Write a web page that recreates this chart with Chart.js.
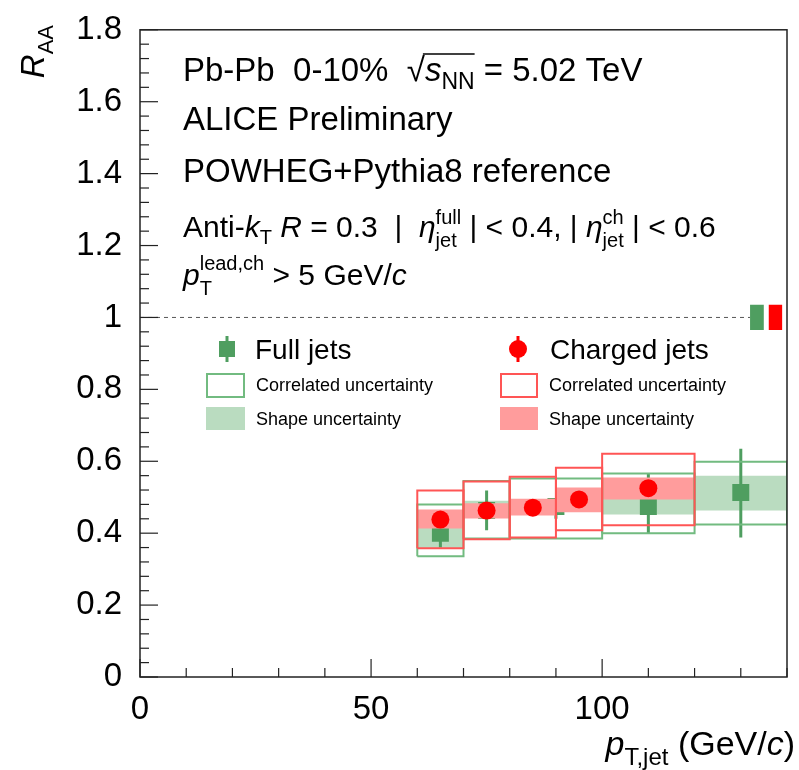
<!DOCTYPE html>
<html><head><meta charset="utf-8">
<script src="https://cdn.jsdelivr.net/npm/chart.js@4/dist/chart.umd.min.js"></script>
<style>html,body{margin:0;padding:0;background:#fff;}#wrap{width:799px;height:770px;}</style>
</head><body><div id="wrap"><canvas id="c" width="799" height="770"></canvas></div>
<script>
// ---------- data ----------
const chargedBinLo = [60, 70, 80, 90, 100];
const chargedBinHi = [70, 80, 90, 100, 120];
const chargedX     = [65, 75, 85, 95, 110];
const chargedRAA   = [0.438, 0.463, 0.471, 0.494, 0.525];
const chargedStat  = [0.008, 0.008, 0.008, 0.008, 0.010];
const chargedShapeLo = [0.413, 0.441, 0.449, 0.458, 0.494];
const chargedShapeHi = [0.466, 0.483, 0.496, 0.527, 0.555];
const chargedCorrLo  = [0.358, 0.383, 0.388, 0.408, 0.422];
const chargedCorrHi  = [0.519, 0.544, 0.557, 0.582, 0.621];

const fullBinLo = [60, 70, 80, 100, 120];
const fullBinHi = [70, 80, 100, 120, 140];
const fullX     = [65, 75, 90, 110, 130];
const fullRAA   = [0.400, 0.463, 0.474, 0.474, 0.513];
const fullStatLo = [0.360, 0.408, 0.440, 0.400, 0.388];
const fullStatHi = [0.440, 0.519, 0.490, 0.566, 0.635];
const fullShapeLo = [0.358, 0.445, 0.460, 0.452, 0.463];
const fullShapeHi = [0.440, 0.490, 0.490, 0.496, 0.560];
const fullCorrLo  = [0.336, 0.385, 0.385, 0.400, 0.424];
const fullCorrHi  = [0.480, 0.545, 0.552, 0.566, 0.599];

const refLine = [0, 132];          // x-range of dashed line at R_AA = 1
const refValue = 1.0;
const fullNormX = [132, 135];
const chargedNormX = [136, 139];
const fullNormY = [0.965, 1.035];
const chargedNormY = [0.965, 1.035];

const xTicks = [0, 50, 100];
const yTicks = [0, 0.2, 0.4, 0.6, 0.8, 1, 1.2, 1.4, 1.6, 1.8];

// ---------- styles ----------
const GREEN = '#4f9e60', GREEN_FILL = '#badcc0', GREEN_LINE = '#72bb80';
const RED = '#ff0000', RED_FILL = '#ff9c9c', RED_LINE = '#ff5555';
const FONT = '"Liberation Sans", Arial, Helvetica, sans-serif';

const datasets = [];
function band(xlo, xhi, lo, hi, color, order) {
  datasets.push({type:'line', data:[{x:xlo,y:lo},{x:xhi,y:lo}], borderWidth:0, borderColor:'rgba(0,0,0,0)', pointRadius:0, fill:false, order});
  datasets.push({type:'line', data:[{x:xlo,y:hi},{x:xhi,y:hi}], borderWidth:0, borderColor:'rgba(0,0,0,0)', pointRadius:0, fill:'-1', backgroundColor:color, order});
}
function box(xlo, xhi, lo, hi, color, order) {
  datasets.push({type:'line', data:[{x:xlo,y:lo},{x:xlo,y:hi},{x:xhi,y:hi},{x:xhi,y:lo},{x:xlo,y:lo}],
    borderColor:color, borderWidth:2, pointRadius:0, fill:false, tension:0, order});
}
function vbar(x, lo, hi, color, w, order) {
  datasets.push({type:'line', data:[{x:x,y:lo},{x:x,y:hi}], borderColor:color, borderWidth:w, pointRadius:0, fill:false, order});
}

fullX.forEach((x,i)=> band(fullBinLo[i], fullBinHi[i], fullShapeLo[i], fullShapeHi[i], GREEN_FILL, 10));
fullX.forEach((x,i)=> vbar(x, fullStatLo[i], fullStatHi[i], GREEN, 3, 9));
datasets.push({type:'line', showLine:false, data: fullX.map((x,i)=>({x, y: fullRAA[i]})), pointStyle:'rect', pointRadius:12, pointBackgroundColor:GREEN, pointBorderWidth:0, order:8});
chargedX.forEach((x,i)=> band(chargedBinLo[i], chargedBinHi[i], chargedShapeLo[i], chargedShapeHi[i], RED_FILL, 7));
fullX.forEach((x,i)=> box(fullBinLo[i], fullBinHi[i], fullCorrLo[i], fullCorrHi[i], GREEN_LINE, 6));
chargedX.forEach((x,i)=> box(chargedBinLo[i], chargedBinHi[i], chargedCorrLo[i], chargedCorrHi[i], RED_LINE, 5));
chargedX.forEach((x,i)=> vbar(x, chargedRAA[i]-chargedStat[i], chargedRAA[i]+chargedStat[i], RED, 3, 4));
datasets.push({type:'line', showLine:false, data: chargedX.map((x,i)=>({x, y: chargedRAA[i]})), pointStyle:'circle', pointRadius:9, pointBackgroundColor:RED, pointBorderWidth:0, order:3});
datasets.push({type:'line', data: refLine.map(x=>({x, y:refValue})), borderColor:'#555', borderWidth:1, borderDash:[4,4], pointRadius:0, fill:false, order:2});
band(fullNormX[0], fullNormX[1], fullNormY[0], fullNormY[1], GREEN, 1);
band(chargedNormX[0], chargedNormX[1], chargedNormY[0], chargedNormY[1], RED, 1);

// ---------- rich text helpers ----------
function fnt(size, it){ return (it ? 'italic ' : '') + size + 'px ' + FONT; }
function drawRich(ctx, x0, y0, segs, align) {
  let x = 0, stackX = 0, stackW = 0; const out = [];
  for (const s of segs) {
    ctx.font = fnt(s.size, s.it); const w = ctx.measureText(s.t).width;
    if (s.s1) { out.push({s, x}); stackX = x; stackW = w; continue; }
    if (s.s2) { out.push({s, x: stackX}); x = stackX + Math.max(stackW, w); continue; }
    out.push({s, x}); x += w;
  }
  const sx = align === 'right' ? x0 - x : x0;
  for (const o of out) { ctx.font = fnt(o.s.size, o.s.it); ctx.fillText(o.s.t, sx + o.x, y0 + (o.s.dy || 0)); }
  return {start: sx, pos: out.map(o => sx + o.x)};
}

const overlay = {
  id: 'overlay',
  afterDraw(chart) {
    const ctx = chart.ctx, a = chart.chartArea, xs = chart.scales.x, ys = chart.scales.y;
    ctx.save();
    // frame
    ctx.strokeStyle = '#222'; ctx.lineWidth = 1.5;
    ctx.strokeRect(a.left, a.top, a.right - a.left, a.bottom - a.top);
    // inner ticks
    ctx.lineWidth = 1.2;
    for (let v = xs.min; v <= xs.max + 1e-9; v += 10) {
      const px = xs.getPixelForValue(v), L = (Math.round(v) % 50 === 0) ? 18 : 9;
      ctx.beginPath(); ctx.moveTo(px, a.bottom); ctx.lineTo(px, a.bottom - L); ctx.stroke();
    }
    for (let k = 0; k <= 45; k++) {
      const v = k * 0.04, py = ys.getPixelForValue(v), L = (k % 5 === 0) ? 18 : 9;
      ctx.beginPath(); ctx.moveTo(a.left, py); ctx.lineTo(a.left + L, py); ctx.stroke();
    }
    ctx.fillStyle = '#000'; ctx.textBaseline = 'alphabetic'; ctx.textAlign = 'left';
    // header texts
    const S = 33, s2 = 23;
    const y1 = 81;
    const r = drawRich(ctx, 183, y1, [
      {t:'Pb-Pb  0-10%  ', size:S}, {t:'\u221A', size:S}, {t:'s', size:S, it:true},
      {t:'NN', size:s2, dy:8}, {t:' = 5.02 TeV', size:S}]);
    ctx.font = fnt(S); const wr = ctx.measureText('\u221A').width;
    ctx.font = fnt(S, true); const ws = ctx.measureText('s').width;
    ctx.font = fnt(s2); const wn = ctx.measureText('NN').width;
    ctx.lineWidth = 1.5; ctx.strokeStyle = '#000';
    ctx.beginPath(); ctx.moveTo(r.pos[1] + wr - 2, y1 - 27); ctx.lineTo(r.pos[2] + ws + wn, y1 - 27); ctx.stroke();
    drawRich(ctx, 183, 130, [{t:'ALICE Preliminary', size:S}]);
    drawRich(ctx, 183, 182, [{t:'POWHEG+Pythia8 reference', size:S}]);
    const T = 30, t2 = 20;
    drawRich(ctx, 183, 237, [
      {t:'Anti-', size:T}, {t:'k', size:T, it:true}, {t:'T', size:t2, dy:7}, {t:' ', size:T},
      {t:'R', size:T, it:true}, {t:' = 0.3  |  ', size:T}, {t:'\u03B7', size:T, it:true},
      {t:'full', size:t2, dy:-13, s1:true}, {t:'jet', size:t2, dy:10, s2:true},
      {t:' | < 0.4, | ', size:T}, {t:'\u03B7', size:T, it:true},
      {t:'ch', size:t2, dy:-13, s1:true}, {t:'jet', size:t2, dy:10, s2:true},
      {t:' | < 0.6', size:T}]);
    drawRich(ctx, 183, 285, [
      {t:'p', size:T, it:true}, {t:'lead,ch', size:t2, dy:-15, s1:true}, {t:'T', size:t2, dy:10, s2:true},
      {t:' > 5 GeV/', size:T}, {t:'c', size:T, it:true}]);
    // axis titles
    drawRich(ctx, 795, 755, [
      {t:'p', size:34, it:true}, {t:'T,jet', size:24, dy:10}, {t:' (GeV/', size:34}, {t:'c', size:34, it:true}, {t:')', size:34}], 'right');
    ctx.save(); ctx.translate(44, 25); ctx.rotate(-Math.PI / 2);
    drawRich(ctx, 0, 0, [{t:'R', size:33, it:true}, {t:'AA', size:22, dy:9}], 'right');
    ctx.restore();
    // legend
    const LG = 28, ls = 18;
    ctx.fillStyle = GREEN; ctx.strokeStyle = GREEN; ctx.lineWidth = 3;
    ctx.beginPath(); ctx.moveTo(227, 336); ctx.lineTo(227, 362); ctx.stroke();
    ctx.fillRect(219, 341, 16, 16);
    ctx.fillStyle = RED; ctx.strokeStyle = RED;
    ctx.beginPath(); ctx.moveTo(518, 336); ctx.lineTo(518, 362); ctx.stroke();
    ctx.beginPath(); ctx.arc(518, 349, 9, 0, Math.PI * 2); ctx.fill();
    ctx.fillStyle = '#000';
    drawRich(ctx, 255, 359, [{t:'Full jets', size:LG}]);
    drawRich(ctx, 550, 359, [{t:'Charged jets', size:LG}]);
    ctx.lineWidth = 2;
    ctx.strokeStyle = GREEN_LINE; ctx.strokeRect(207, 374, 37, 23);
    ctx.strokeStyle = RED_LINE; ctx.strokeRect(501, 374, 36, 23);
    ctx.fillStyle = GREEN_FILL; ctx.fillRect(206, 407, 39, 23);
    ctx.fillStyle = RED_FILL; ctx.fillRect(500, 407, 38, 23);
    ctx.fillStyle = '#000';
    drawRich(ctx, 256, 391, [{t:'Correlated uncertainty', size:ls}]);
    drawRich(ctx, 549, 391, [{t:'Correlated uncertainty', size:ls}]);
    drawRich(ctx, 256, 425, [{t:'Shape uncertainty', size:ls}]);
    drawRich(ctx, 549, 425, [{t:'Shape uncertainty', size:ls}]);
    ctx.restore();
  }
};

new Chart(document.getElementById('c'), {
  type: 'line',
  data: { datasets },
  options: {
    responsive: false, animation: false, devicePixelRatio: 1,
    layout: { padding: { left: 0, right: 4, top: 28, bottom: 0 } },
    plugins: { legend: { display: false }, tooltip: { enabled: false } },
    scales: {
      x: { type: 'linear', min: 0, max: 140,
        afterBuildTicks: s => { s.ticks = xTicks.map(v => ({value: v})); },
        afterFit: s => { s.height = 93; },
        grid: { display: false }, border: { display: false },
        ticks: { font: { size: 33, family: FONT }, color: '#000', padding: 5, maxRotation: 0, autoSkip: false } },
      y: { type: 'linear', min: 0, max: 1.8,
        afterBuildTicks: s => { s.ticks = yTicks.map(v => ({value: v})); },
        afterFit: s => { s.width = 140; },
        grid: { display: false }, border: { display: false },
        ticks: { font: { size: 33, family: FONT }, color: '#000', padding: 10, autoSkip: false,
          callback: v => String(Math.round(v * 10) / 10) } }
    }
  },
  plugins: [overlay]
});
</script></body></html>
